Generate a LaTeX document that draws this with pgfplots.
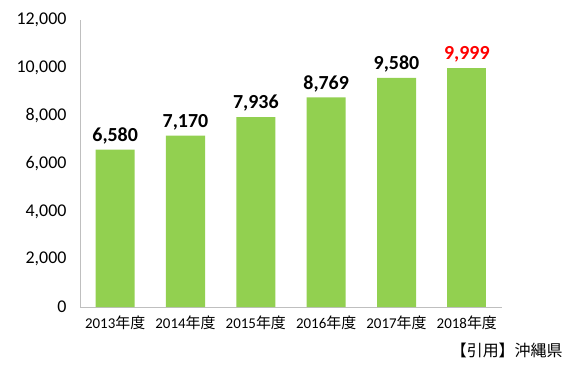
\documentclass[border=0pt]{standalone}
\usepackage{pgfplots}
\pgfplotsset{compat=1.18}
\usepackage{fontspec}
\setmainfont{Carlito}
\newfontfamily\cjk{Noto Sans CJK JP}
\definecolor{bargreen}{HTML}{92D050}
\definecolor{axgray}{HTML}{BFBFBF}
\begin{document}
\begin{tikzpicture}
\begin{axis}[
  at={(0,0)}, anchor=south west,
  scale only axis,
  width=422bp, height=287bp,
  xmin=-0.5, xmax=5.5,
  ymin=0, ymax=12000,
  ytick={0,2000,4000,6000,8000,10000,12000},
  xtick={0,1,2,3,4,5},
  xticklabels={2013{\cjk 年度},2014{\cjk 年度},2015{\cjk 年度},2016{\cjk 年度},2017{\cjk 年度},2018{\cjk 年度}},
  axis x line*=bottom, axis y line*=left,
  axis line style={axgray, line width=1bp, -},
  major tick length=0pt,
  scaled y ticks=false,
  /pgf/number format/assume math mode=true,
  /pgf/number format/1000 sep={,},
  yticklabel style={font=\fontsize{18}{20}\selectfont, xshift=-10bp},
  xticklabel style={font=\fontsize{15}{17}\selectfont, yshift=-5bp},
  ybar, bar width=39bp, bar shift=0pt,
  nodes near coords,
  every node near coord/.append style={font=\bfseries\fontsize{20}{22}\selectfont, anchor=south, yshift=2bp},
]
\addplot[fill=bargreen, draw=none] coordinates {(0,6580) (1,7170) (2,7936) (3,8769) (4,9580)};
\addplot[fill=bargreen, draw=none, every node near coord/.append style={text=red}] coordinates {(5,9999)};
\end{axis}
\node[anchor=east, font=\fontsize{16}{18}\selectfont\cjk] at (486bp,-43bp) {【引用】沖縄県};
\pgfresetboundingbox
\path (-80bp,-67bp) rectangle (499bp,307bp);
\end{tikzpicture}
\end{document}
